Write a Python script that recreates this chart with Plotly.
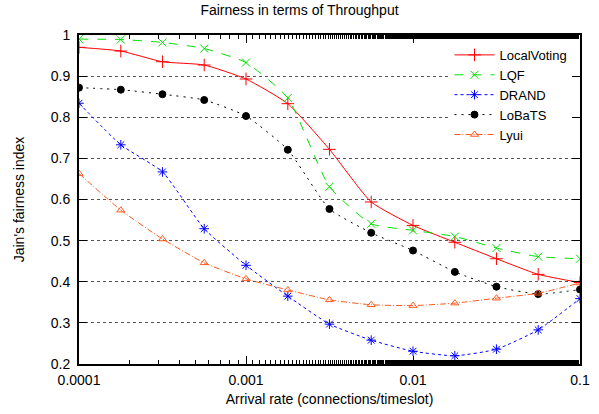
import plotly.graph_objects as go

arrival_rate = [0.0001, 0.000178, 0.000316, 0.000562, 0.001, 0.00178, 0.00316,
                0.00562, 0.01, 0.0178, 0.0316, 0.0562, 0.1]

local_voting = [0.970, 0.961, 0.935, 0.927, 0.893, 0.833, 0.722, 0.594, 0.537, 0.496, 0.456, 0.418, 0.398]
lqf = [0.990, 0.989, 0.982, 0.967, 0.933, 0.847, 0.631, 0.541, 0.525, 0.510, 0.482, 0.461, 0.456]
drand = [0.834, 0.733, 0.667, 0.529, 0.440, 0.365, 0.297, 0.258, 0.231, 0.220, 0.236, 0.283, 0.359]
lobats = [0.872, 0.867, 0.856, 0.842, 0.803, 0.721, 0.577, 0.519, 0.476, 0.424, 0.388, 0.370, 0.381]
lyui = [0.663, 0.574, 0.504, 0.446, 0.407, 0.380, 0.356, 0.344, 0.342, 0.348, 0.360, 0.372, 0.397]

y_ticks = [0.2, 0.3, 0.4, 0.5, 0.6, 0.7, 0.8, 0.9, 1.0]
y_tick_labels = ["0.2", "0.3", "0.4", "0.5", "0.6", "0.7", "0.8", "0.9", "1"]
x_ticks = [0.0001, 0.001, 0.01, 0.1]
x_tick_labels = ["0.0001", "0.001", "0.01", "0.1"]

series = [
    ("LocalVoting", local_voting, "#ff0000", "solid", "cross-thin-open", 9),
    ("LQF", lqf, "#00e000", "dash", "x-thin-open", 8),
    ("DRAND", drand, "#0000ff", "dot", "asterisk-open", 8),
    ("LoBaTS", lobats, "#000000", "2px,5px", "circle", 7),
    ("Lyui", lyui, "#ff5a1f", "6px,2px,1px,2px", "triangle-up-open", 7),
]

fig = go.Figure()
for name, vals, color, dash, sym, size in series:
    fig.add_trace(go.Scatter(
        x=arrival_rate, y=vals, name=name, mode="lines+markers",
        line=dict(color=color, width=1, dash=dash, shape="spline", smoothing=0.5),
        marker=dict(symbol=sym, size=size, color=color, line=dict(color=color, width=1)),
    ))

font = "Liberation Sans, Arial, Helvetica, sans-serif"
fig.update_layout(
    width=599, height=414,
    margin=dict(l=79, r=19, t=35, b=50, autoexpand=False),
    paper_bgcolor="white", plot_bgcolor="white",
    font=dict(family=font, size=14, color="black"),
    title=dict(text="Fairness in terms of Throughput", x=0.5, xanchor="center",
               y=0.988, yanchor="top", font=dict(size=14)),
    showlegend=True,
    legend=dict(x=0.985, xanchor="right", y=0.985, yanchor="top",
                bgcolor="white", borderwidth=0, tracegroupgap=0,
                font=dict(size=13), itemwidth=40),
)
fig.update_xaxes(
    type="log", range=[-4, -1], tickvals=x_ticks, ticktext=x_tick_labels,
    ticks="inside", ticklen=8, tickwidth=1, tickcolor="black",
    showline=True, linecolor="black", linewidth=2, mirror="ticks",
    showgrid=False, zeroline=False, automargin=False,
    minor=dict(ticks="inside", ticklen=4, tickcolor="black", showgrid=False),
    title=dict(text="Arrival rate (connections/timeslot)", standoff=7, font=dict(size=14)),
    tickfont=dict(size=14), ticklabelstandoff=2,
)
fig.update_yaxes(
    range=[0.2, 1.0], tickvals=y_ticks, ticktext=y_tick_labels,
    ticks="inside", ticklen=8, tickwidth=1, tickcolor="black",
    showline=True, linecolor="black", linewidth=2, mirror="ticks",
    showgrid=True, gridcolor="#555555", griddash="dot", gridwidth=1,
    zeroline=False, automargin=False,
    title=dict(text="Jain's fairness index", standoff=23, font=dict(size=14)),
    tickfont=dict(size=14), ticklabelstandoff=4,
)

fig.write_html("out.html", post_script="document.body.style.margin='0';",
               config={"displayModeBar": False})
